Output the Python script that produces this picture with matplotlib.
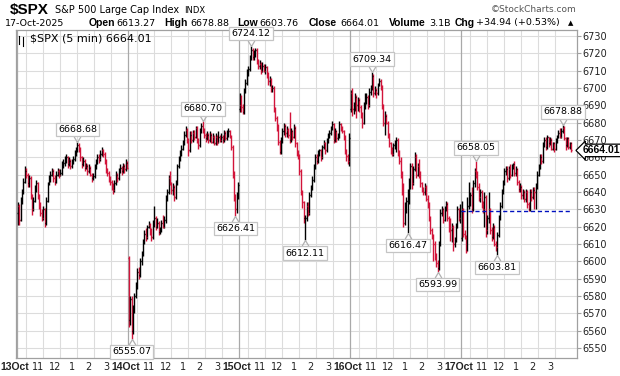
import numpy as np
import matplotlib.pyplot as plt
from matplotlib.path import Path
from matplotlib.transforms import ScaledTranslation

# 5 min bars, 78 per session (9:30 - 16:00)
days = ['13Oct', '14Oct', '15Oct', '16Oct', '17Oct']
hours = ['11', '12', '1', '2', '3']
day_open = [6628, 6602, 6688, 6688, 6613.27]

close_13 = [6632, 6624, 6635, 6640, 6646, 6652, 6650, 6645, 6648, 6638,
            6630, 6635, 6642, 6645, 6638, 6632, 6628, 6625, 6630, 6622,
            6635, 6645, 6648, 6650, 6652, 6648, 6646, 6650, 6652, 6650,
            6651, 6656, 6657, 6659, 6660, 6656, 6658, 6655, 6657, 6659,
            6662, 6664, 6667, 6665, 6660, 6656, 6658, 6654, 6655, 6652,
            6654, 6650, 6648, 6649, 6654, 6657, 6660, 6659, 6662, 6664,
            6662, 6658, 6653, 6651, 6648, 6646, 6643, 6641, 6645, 6650,
            6648, 6652, 6654, 6652, 6655, 6653, 6657, 6654]
high_13 = [6634, 6633, 6637, 6642, 6648, 6655, 6654, 6651, 6650, 6649,
           6639, 6637, 6644, 6647, 6646, 6639, 6634, 6630, 6632, 6631,
           6637, 6646, 6650, 6652, 6654, 6653, 6650, 6652, 6654, 6653,
           6653, 6658, 6659, 6661, 6662, 6661, 6660, 6659, 6659, 6661,
           6664, 6666, 6668.68, 6668, 6666, 6661, 6660, 6659, 6657, 6656,
           6656, 6655, 6651, 6651, 6656, 6659, 6662, 6662, 6664, 6666,
           6665, 6663, 6659, 6654, 6652, 6649, 6647, 6645, 6647, 6652,
           6651, 6654, 6656, 6655, 6657, 6656, 6659, 6658]
low_13 = [6621, 6621, 6623, 6633, 6639, 6645, 6648, 6643, 6643, 6636,
          6627, 6629, 6634, 6640, 6636, 6630, 6626, 6623, 6624, 6620,
          6621, 6634, 6644, 6646, 6649, 6646, 6644, 6645, 6649, 6648,
          6649, 6650, 6654, 6655, 6657, 6654, 6655, 6653, 6654, 6656,
          6658, 6661, 6663, 6663, 6658, 6654, 6655, 6652, 6653, 6650,
          6651, 6649, 6646, 6647, 6648, 6653, 6656, 6657, 6658, 6661,
          6660, 6656, 6651, 6649, 6646, 6644, 6641, 6639, 6640, 6644,
          6646, 6647, 6651, 6650, 6651, 6651, 6652, 6653]

close_14 = [6566, 6578, 6560, 6572, 6580, 6585, 6594, 6592, 6600, 6604,
            6611, 6616, 6614, 6620, 6621, 6617, 6614, 6622, 6625, 6620,
            6622, 6617, 6618, 6622, 6620, 6624, 6636, 6640, 6648, 6645,
            6641, 6643, 6637, 6645, 6655, 6659, 6662, 6665, 6668, 6673,
            6676, 6670, 6664, 6673, 6670, 6674, 6672, 6677, 6670, 6667,
            6675, 6678, 6676, 6673, 6671, 6673, 6670, 6673, 6669, 6672,
            6668, 6672, 6669, 6672, 6670, 6672, 6670, 6674, 6671, 6673,
            6675, 6672, 6666, 6650, 6637, 6630, 6638, 6644]
high_14 = [6603, 6580, 6580, 6575, 6582, 6588, 6596, 6597, 6602, 6606,
           6613, 6618, 6619, 6621, 6623, 6622, 6619, 6624, 6632, 6626,
           6625, 6623, 6620, 6624, 6627, 6626, 6638, 6642, 6650, 6652,
           6646, 6645, 6644, 6647, 6656, 6661, 6664, 6667, 6670, 6675,
           6678, 6677, 6671, 6675, 6675, 6676, 6676, 6678, 6678, 6671,
           6677, 6680, 6680.70, 6677, 6674, 6675, 6674, 6675, 6674, 6674,
           6673, 6674, 6673, 6675, 6673, 6674, 6673, 6676, 6675, 6676,
           6677, 6676, 6673, 6667, 6652, 6639, 6640, 6646]
low_14 = [6562, 6563, 6555.07, 6558, 6570, 6579, 6584, 6590, 6591, 6598,
          6603, 6610, 6612, 6613, 6619, 6615, 6612, 6613, 6620, 6618,
          6619, 6615, 6616, 6617, 6619, 6619, 6622, 6635, 6639, 6644,
          6639, 6638, 6635, 6636, 6644, 6654, 6658, 6661, 6664, 6667,
          6672, 6668, 6661, 6663, 6668, 6669, 6670, 6671, 6668, 6665,
          6666, 6674, 6674, 6671, 6669, 6670, 6668, 6669, 6668, 6668,
          6667, 6667, 6667, 6668, 6669, 6669, 6668, 6669, 6670, 6670,
          6672, 6671, 6664, 6648, 6635, 6626.41, 6628, 6636]

close_15 = [6690, 6689, 6686, 6698, 6703, 6709, 6711, 6717, 6722, 6718,
            6720, 6722, 6716, 6713, 6714, 6710, 6713, 6710, 6712, 6708,
            6704, 6705, 6700, 6700, 6688, 6683, 6678, 6669, 6663, 6670,
            6675, 6678, 6674, 6676, 6673, 6670, 6675, 6672, 6677, 6668,
            6663, 6661, 6652, 6640, 6634, 6625, 6625, 6632, 6628, 6638,
            6642, 6647, 6654, 6660, 6658, 6662, 6664, 6660, 6666, 6668,
            6664, 6669, 6672, 6674, 6677, 6679, 6670, 6675, 6671, 6672,
            6679, 6677, 6675, 6672, 6664, 6661, 6658, 6671]
high_15 = [6697, 6696, 6691, 6700, 6705, 6711, 6713, 6719, 6724.12, 6723,
           6722, 6723, 6723, 6717, 6716, 6715, 6715, 6714, 6714, 6713,
           6709, 6707, 6706, 6702, 6701, 6689, 6684, 6679, 6670, 6672,
           6677, 6680, 6679, 6678, 6677, 6686, 6677, 6676, 6679, 6678,
           6669, 6664, 6662, 6653, 6641, 6635, 6627, 6634, 6634, 6640,
           6644, 6649, 6656, 6662, 6662, 6664, 6665, 6665, 6667, 6670,
           6669, 6671, 6674, 6676, 6678, 6681, 6680, 6677, 6676, 6674,
           6681, 6680, 6678, 6676, 6673, 6665, 6662, 6674]
low_15 = [6686, 6686, 6685, 6685, 6697, 6702, 6707, 6710, 6716, 6716,
          6716, 6718, 6714, 6711, 6711, 6708, 6709, 6709, 6708, 6706,
          6702, 6701, 6698, 6698, 6686, 6681, 6675, 6667, 6662, 6662,
          6668, 6673, 6672, 6672, 6671, 6668, 6669, 6670, 6671, 6666,
          6661, 6659, 6650, 6638, 6631, 6622, 6612.11, 6623, 6626, 6627,
          6637, 6641, 6646, 6653, 6656, 6657, 6661, 6658, 6659, 6665,
          6662, 6663, 6668, 6671, 6673, 6676, 6668, 6669, 6669, 6670,
          6671, 6675, 6674, 6670, 6662, 6658, 6656, 6655]

close_16 = [6697, 6688, 6688, 6695, 6690, 6693, 6689, 6685, 6680, 6690,
            6694, 6695, 6690, 6698, 6700, 6707, 6697, 6699, 6697, 6702,
            6704, 6701, 6690, 6680, 6684, 6680, 6673, 6668, 6665, 6662,
            6667, 6668, 6670, 6663, 6658, 6650, 6644, 6622, 6633, 6635,
            6640, 6645, 6655, 6645, 6653, 6660, 6650, 6655, 6650, 6645,
            6642, 6640, 6643, 6636, 6633, 6625, 6618, 6615, 6610, 6603,
            6599, 6596, 6610, 6628, 6630, 6624, 6630, 6633, 6625, 6619,
            6618, 6620, 6610, 6612, 6620, 6630, 6625, 6629.07]
high_16 = [6699, 6700, 6692, 6697, 6696, 6695, 6694, 6690, 6686, 6692,
           6697, 6697, 6696, 6700, 6702, 6709.34, 6708, 6701, 6700, 6703,
           6706, 6705, 6702, 6691, 6687, 6685, 6681, 6674, 6669, 6666,
           6668, 6670, 6672, 6671, 6664, 6660, 6652, 6645, 6634, 6637,
           6642, 6648, 6657, 6657, 6655, 6663, 6662, 6657, 6659, 6652,
           6646, 6643, 6645, 6644, 6638, 6634, 6626, 6619, 6616, 6612,
           6605, 6601, 6612, 6630, 6632, 6631, 6632, 6635, 6634, 6626,
           6625, 6622, 6621, 6614, 6622, 6632, 6631, 6633]
low_16 = [6686, 6684, 6685, 6687, 6683, 6687, 6686, 6683, 6677, 6679,
          6688, 6691, 6688, 6689, 6696, 6699, 6695, 6696, 6694, 6696,
          6701, 6699, 6688, 6678, 6673, 6679, 6671, 6666, 6662, 6661,
          6661, 6665, 6663, 6661, 6656, 6648, 6638, 6620, 6621, 6628,
          6616.47, 6633, 6642, 6642, 6644, 6652, 6648, 6649, 6648, 6643,
          6640, 6638, 6638, 6635, 6631, 6623, 6616, 6613, 6600, 6601,
          6597, 6593.99, 6595, 6609, 6626, 6622, 6623, 6629, 6623, 6617,
          6612, 6611, 6606, 6608, 6611, 6619, 6623, 6622]

close_17 = [6630, 6616, 6614, 6606, 6632, 6634, 6638, 6630, 6645, 6652,
            6650, 6643, 6637, 6640, 6633, 6630, 6637, 6618, 6625, 6630,
            6618, 6614, 6620, 6610, 6608, 6615, 6625, 6632, 6640, 6645,
            6652, 6653, 6648, 6653, 6650, 6654, 6656, 6651, 6653, 6646,
            6642, 6643, 6638, 6640, 6636, 6640, 6633, 6630, 6640, 6637,
            6641, 6640, 6643, 6650, 6654, 6660, 6658, 6667, 6670, 6666,
            6672, 6668, 6670, 6665, 6668, 6665, 6670, 6672, 6674, 6672,
            6675, 6677, 6671, 6667, 6671, 6666, 6668, 6664.01]
high_17 = [6635, 6631, 6618, 6615, 6637, 6646, 6640, 6643, 6647, 6654,
           6658.05, 6652, 6645, 6642, 6641, 6635, 6640, 6638, 6627, 6640,
           6631, 6620, 6622, 6621, 6612, 6617, 6627, 6634, 6642, 6647,
           6654, 6655, 6655, 6655, 6656, 6656, 6657, 6658, 6655, 6654,
           6647, 6645, 6644, 6642, 6641, 6642, 6641, 6634, 6642, 6642,
           6643, 6643, 6645, 6652, 6656, 6662, 6662, 6669, 6672, 6672,
           6673, 6672, 6672, 6671, 6669, 6669, 6671, 6673, 6676, 6677,
           6677, 6678.88, 6678, 6672, 6672, 6672, 6669, 6669]
low_17 = [6612, 6614, 6613, 6605, 6606, 6630, 6632, 6628, 6629, 6643,
          6648, 6641, 6635, 6634, 6631, 6628, 6620, 6614, 6616, 6622,
          6616, 6612, 6613, 6609, 6606, 6603.81, 6614, 6624, 6631, 6639,
          6644, 6650, 6646, 6647, 6648, 6649, 6653, 6649, 6649, 6644,
          6640, 6640, 6636, 6636, 6634, 6634, 6631, 6629, 6629, 6635,
          6636, 6630, 6630, 6642, 6649, 6653, 6656, 6657, 6666, 6664,
          6665, 6666, 6667, 6664, 6664, 6663, 6664, 6668, 6671, 6671,
          6671, 6674, 6670, 6664, 6666, 6665, 6665, 6663]

high_labels = [6668.68, 6680.70, 6724.12, 6709.34, 6658.05, 6678.88]
low_labels = [6555.07, 6626.41, 6612.11, 6616.47, 6593.99, 6603.81]

closes_by_day = [close_13, close_14, close_15, close_16, close_17]
closes = np.concatenate(closes_by_day)
highs = np.concatenate([high_13, high_14, high_15, high_16, high_17])
lows = np.concatenate([low_13, low_14, low_15, low_16, low_17])
opens = np.concatenate([[o] + c[:-1] for o, c in zip(day_open, closes_by_day)])
n_day = len(close_13)
x = np.arange(len(closes))

RED = '#d2143a'
cols = np.where(closes < opens, RED, 'black')

fig = plt.figure(figsize=(6.2, 3.76), dpi=100)
ax = fig.add_axes([16/620, 18/376, 561/620, 328/376])
ax.set_xlim(-1.2, 393.0)
ax.set_ylim(6544.2, 6733.5)

# grid
yt = np.arange(6550, 6731, 10)
for y in yt:
    ax.axhline(y, color='#dcdcdc', lw=0.8, zorder=0)
for d in range(len(days)):
    ax.axvline(d*n_day - 0.5, color='#a9a9a9', lw=0.9, zorder=0)
    for k in range(6):
        ax.axvline(d*n_day + 5.5 + 12*k, color='#dcdcdc', lw=0.8, zorder=0)

# ohlc bars
ax.vlines(x, lows, highs, colors=cols, lw=1.0, zorder=2)
ax.hlines(opens, x - 0.5, x, colors=cols, lw=1.0, zorder=2)
ax.hlines(closes, x, x + 0.5, colors=cols, lw=1.0, zorder=2)

# previous close line on last session
prev_close = close_16[-1]
ax.hlines(prev_close, 4*n_day - 0.5, len(x) - 0.5, colors='#0010c0',
          linestyles=(0, (3, 2)), lw=1.0, zorder=3)

# high / low labels
v_up = Path([(-0.6, 1), (0, 0), (0.6, 1)], [Path.MOVETO, Path.LINETO, Path.LINETO])
v_dn = Path([(-0.6, -1), (0, 0), (0.6, -1)], [Path.MOVETO, Path.LINETO, Path.LINETO])
box = dict(boxstyle='square,pad=0.25', fc='white', ec='#c4c4c4', lw=0.9)
for v in high_labels:
    i = int(np.argmin(np.abs(highs - v)))
    ax.plot(x[i], highs[i], marker=v_up, ms=8, mfc='none', mec='#b0b0b0', mew=0.9, zorder=4)
    ax.annotate(f'{v:.2f}', (x[i], highs[i]), xytext=(0, 6), textcoords='offset points',
                ha='center', va='bottom', fontsize=6.8, bbox=box, zorder=5)
for v in low_labels:
    i = int(np.argmin(np.abs(lows - v)))
    ax.plot(x[i], lows[i], marker=v_dn, ms=8, mfc='none', mec='#b0b0b0', mew=0.9, zorder=4)
    ax.annotate(f'{v:.2f}', (x[i], lows[i]), xytext=(0, -6), textcoords='offset points',
                ha='center', va='top', fontsize=6.8, bbox=box, zorder=5)

# axes styling
for s in ax.spines.values():
    s.set_color('#a0a0a0')
    s.set_linewidth(0.9)
ax.yaxis.tick_right()
ax.set_yticks(yt)
ax.set_yticklabels([str(v) for v in yt])
ax.tick_params(axis='y', length=3, width=0.8, color='#a0a0a0', pad=1, labelsize=7, labelcolor='#222222')

xt, xl = [], []
for d, name in enumerate(days):
    xt.append(d*n_day - 0.5)
    xl.append(name)
    for k, h in enumerate(hours):
        xt.append(d*n_day + 17.5 + 12*k)
        xl.append(h)
ax.set_xticks(xt)
ax.set_xticklabels(xl)
ax.tick_params(axis='x', length=0, pad=3, labelsize=7, labelcolor='#222222')
for lab in ax.get_xticklabels():
    if lab.get_text().endswith('Oct'):
        lab.set_fontweight('bold')
        lab.set_family('Liberation Sans')
        lab.set_fontsize(7.5)
        dx = -2
    else:
        dx = -5
    lab.set_transform(lab.get_transform() + ScaledTranslation(dx/100, 0, fig.dpi_scale_trans))

# last price tag
ax.annotate(f'{closes[-1]:.2f}', (1.0, closes[-1]), xycoords=ax.get_yaxis_transform(),
            xytext=(4, 0), textcoords='offset points', ha='left', va='center',
            fontsize=7.5, fontweight='bold', family='Liberation Sans',
            bbox=dict(boxstyle='larrow,pad=0.12', fc='white', ec='black', lw=0.9), zorder=6)

# title inside plot
ax.text(14/561, 0.988, f'$SPX (5 min) {closes[-1]:.2f}', transform=ax.transAxes,
        ha='left', va='top', fontsize=8, zorder=6)
ax.plot([0.006, 0.006], [0.957, 0.983], transform=ax.transAxes, color='black', lw=0.8)
ax.plot([0.012, 0.012], [0.952, 0.978], transform=ax.transAxes, color='black', lw=0.8)

# header
def px(xp, yp):
    return xp/620, 1 - yp/376

fig.text(*px(10, 10), '$SPX', fontsize=11, fontweight='bold', family='Liberation Sans', va='center')
fig.text(*px(55, 10), 'S&P 500 Large Cap Index', fontsize=7, va='center')
fig.text(*px(184, 10.5), 'INDX', fontsize=6, va='center')
fig.text(*px(576, 10), '\u00a9StockCharts.com', fontsize=6.5, color='#555555', va='center', ha='right')

hdr = [(5, '17-Oct-2025', False), (89, 'Open', True), (116, f'{day_open[-1]:.2f}', False),
       (164, 'High', True), (190, f'{max(high_17):.2f}', False),
       (237, 'Low', True), (259, f'{min(low_17) - 0.05:.2f}', False),
       (309, 'Close', True), (340, f'{closes[-1]:.2f}', False),
       (389, 'Volume', True), (429, '3.1B', False),
       (455, 'Chg', True), (476, '+34.94 (+0.53%)', False)]
for xp, t, b in hdr:
    if b:
        fig.text(*px(xp, 23), t, fontsize=7.5, fontweight='bold', family='Liberation Sans', va='center')
    else:
        fig.text(*px(xp, 23), t, fontsize=6.8, va='center')
fig.text(*px(568, 23), '\u25b2', fontsize=5, va='center')

fig.savefig('out.png', dpi=100)
